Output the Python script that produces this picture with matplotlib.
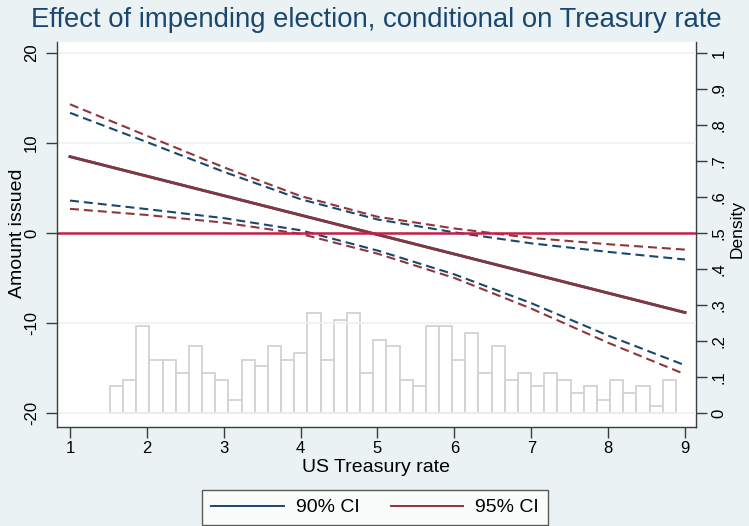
import matplotlib
matplotlib.use('Agg')
import matplotlib.pyplot as plt
import numpy as np

plt.rcParams['font.family'] = ['Liberation Sans', 'DejaVu Sans']

# ---- data ----
rate = [1, 2, 3, 4, 5, 6, 7, 8, 9]
upper95 = [14.3, 10.8, 7.3, 4.1, 1.8, 0.5, -0.55, -1.25, -1.85]
upper90 = [13.35, 10.1, 6.8, 3.75, 1.5, 0.07, -1.15, -2.1, -2.95]
lower90 = [3.6, 2.65, 1.65, 0.3, -1.95, -4.6, -7.8, -11.4, -14.7]
lower95 = [2.68, 2.0, 1.15, -0.1, -2.3, -5.0, -8.4, -12.2, -15.7]
effect_x = [1, 9]
effect_y = [8.48, -8.84]

hist_start = 1.52
hist_width = 0.1712
hist_density = [0.074, 0.093, 0.241, 0.148, 0.148, 0.111, 0.185, 0.111, 0.093, 0.037,
                0.148, 0.130, 0.185, 0.148, 0.167, 0.278, 0.148, 0.259, 0.278, 0.111,
                0.204, 0.185, 0.093, 0.074, 0.241, 0.241, 0.148, 0.222, 0.111, 0.185,
                0.093, 0.111, 0.074, 0.111, 0.093, 0.056, 0.074, 0.037, 0.093, 0.056,
                0.074, 0.019, 0.093]

x_ticks = [1, 2, 3, 4, 5, 6, 7, 8, 9]
y_ticks = [-20, -10, 0, 10, 20]
d_ticks = [0, 0.1, 0.2, 0.3, 0.4, 0.5, 0.6, 0.7, 0.8, 0.9, 1.0]
d_labels = ['0', '.1', '.2', '.3', '.4', '.5', '.6', '.7', '.8', '.9', '1']

NAVY = '#1a476f'
MAROON = '#90353b'
ZERO = '#c51f46'
BG = '#eaf2f3'
AXC = '#3c3c3c'

W, H = 749, 526
fig = plt.figure(figsize=(W / 100, H / 100), dpi=100, facecolor=BG)
ax = fig.add_axes([57 / W, 1 - 427 / H, (696 - 57) / W, (427 - 42) / H])
ax2 = ax.twinx()
ax.set_zorder(ax2.get_zorder() + 1)
ax.patch.set_visible(False)
ax2.patch.set_visible(True)
ax2.patch.set_facecolor('white')

# histogram (density axis)
lefts = hist_start + hist_width * np.arange(len(hist_density))
ax2.bar(lefts, hist_density, width=hist_width, align='edge', facecolor='white',
        edgecolor='#d2d2d2', linewidth=1.3)
ax2.set_ylim(-0.0389, 1.0306)
ax2.set_yticks(d_ticks)
ax2.set_yticklabels(d_labels, rotation=90, va='center')
ax2.tick_params(axis='y', direction='out', length=8, width=1, color=AXC, labelsize=12, pad=3)

# grid
ax.set_axisbelow(True)
ax.yaxis.grid(True, color=BG, linewidth=1.2)
ax.xaxis.grid(False)

# lines
dash = (4.3, 2.4)
ax.plot(rate, upper95, color=MAROON, lw=1.5, dashes=dash)
ax.plot(rate, lower95, color=MAROON, lw=1.5, dashes=dash)
ax.plot(rate, upper90, color=NAVY, lw=1.5, dashes=dash)
ax.plot(rate, lower90, color=NAVY, lw=1.5, dashes=dash)
l90, = ax.plot(effect_x, effect_y, color=NAVY, lw=2.0)
l95, = ax.plot(effect_x, effect_y, color=MAROON, lw=2.0, alpha=0.9)
ax.axhline(0, color=ZERO, lw=1.8)

ax.set_xlim(0.831, 9.143)
ax.set_ylim(-21.56, 21.22)
ax.set_xticks(x_ticks)
ax.set_yticks(y_ticks)
ax.set_yticklabels([str(v) for v in y_ticks], rotation=90, va='center')
ax.tick_params(axis='both', direction='out', length=8, width=1, color=AXC, labelsize=12)
ax.tick_params(axis='y', pad=5)
ax.tick_params(axis='x', pad=2)

for a in (ax, ax2):
    a.spines['top'].set_visible(False)
    for s in a.spines.values():
        s.set_color(AXC)
        s.set_linewidth(1.0)
ax.spines['right'].set_visible(False)
ax2.spines['left'].set_visible(False)
ax2.spines['bottom'].set_visible(False)

ax.set_xlabel('US Treasury rate', fontsize=14, labelpad=2)
fig.text(18 / W, 1 - 233.5 / H, 'Amount issued', rotation=90, ha='center', va='center', fontsize=14)
fig.text(737 / W, 1 - 229 / H, 'Density', rotation=90, ha='center', va='center', fontsize=12.5)

fig.text(376 / W, 1 - 20 / H, 'Effect of impending election, conditional on Treasury rate',
         ha='center', va='center', fontsize=19.8, color=NAVY)

leg = fig.legend(handles=[l90, l95], labels=['90% CI', '95% CI'], ncol=2,
                 loc='upper center', bbox_to_anchor=(375 / W, 1 - 490 / H),
                 frameon=True, fancybox=False, fontsize=14, handlelength=3.75,
                 handletextpad=0.6, columnspacing=1.6, borderpad=0.45, borderaxespad=0)
leg.get_frame().set_edgecolor('#333333')
leg.get_frame().set_linewidth(1.0)
leg.get_frame().set_facecolor('white')
for ln in leg.get_lines():
    ln.set_linewidth(1.4)
    ln.set_alpha(1.0)

fig.savefig('out.png', dpi=100, facecolor=BG)
